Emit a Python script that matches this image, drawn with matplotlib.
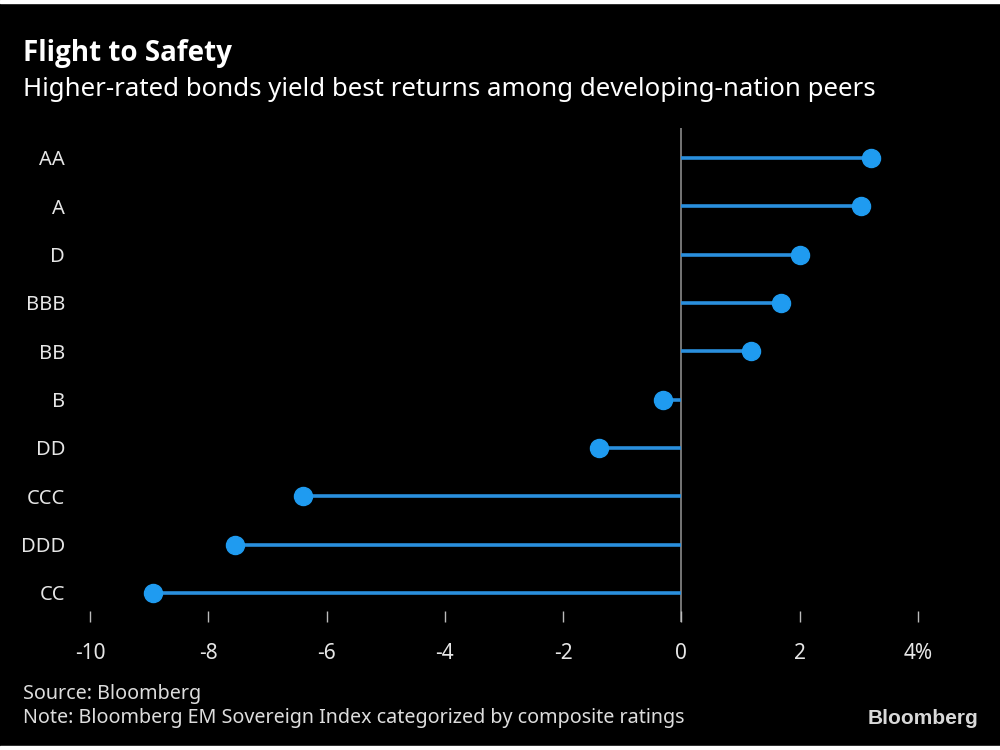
import matplotlib.pyplot as plt
from matplotlib.patches import Rectangle

# ratings, top to bottom as in the chart
ratings = ['AA', 'A', 'D', 'BBB', 'BB', 'B', 'DD', 'CCC', 'DDD', 'CC']
returns = [3.21, 3.03, 2.0, 1.69, 1.17, -0.32, -1.40, -6.40, -7.55, -8.93]
xticks = [-10, -8, -6, -4, -2, 0, 2, 4]
xticklabels = ['-10', '-8', '-6', '-4', '-2', '0', '2', '4%']

plt.rcParams['font.family'] = ['Noto Sans', 'DejaVu Sans']

fig = plt.figure(figsize=(10, 7.5), dpi=100, facecolor='black')
# thin white bands at the top and bottom edge
fig.patches.append(Rectangle((0, 0.9955), 1, 0.0045, transform=fig.transFigure, color='white', zorder=10))
fig.patches.append(Rectangle((0, 0), 1, 0.005, transform=fig.transFigure, color='white', zorder=10))

ax = fig.add_axes([0.09, 0.1707, 0.828, 0.6586])
ax.set_facecolor('black')

ypos = list(range(len(ratings) - 1, -1, -1))
blue = '#1f9bf0'
ax.hlines(ypos, 0, returns, color='#2a8fdd', linewidth=2.6, zorder=2)
ax.plot(returns, ypos, 'o', color=blue, markersize=13, zorder=3, clip_on=False)
ax.axvline(0, color='#8a8a8a', linewidth=1.2, zorder=1)

ax.set_xlim(-10, 4)
ax.set_ylim(-0.6, 9.62)
ax.set_xticks(xticks)
ax.set_xticklabels(xticklabels)
ax.set_yticks(ypos)
ax.set_yticklabels(ratings)

for s in ax.spines.values():
    s.set_visible(False)
ax.tick_params(axis='x', direction='in', length=8, width=1, color='#bbbbbb',
               labelcolor='#e6e6e6', labelsize=15, pad=15)
ax.tick_params(axis='y', length=0, labelcolor='#e6e6e6', labelsize=14.5, pad=18)

fig.text(0.023, 0.918, 'Flight to Safety', color='white', fontsize=20,
         fontweight='bold', family='Open Sans', ha='left', va='baseline')
fig.text(0.023, 0.872, 'Higher-rated bonds yield best returns among developing-nation peers',
         color='white', fontsize=18.6, ha='left', va='baseline')
fig.text(0.023, 0.068, 'Source: Bloomberg', color='#dddddd', fontsize=14.2,
         ha='left', va='baseline')
fig.text(0.023, 0.036, 'Note: Bloomberg EM Sovereign Index categorized by composite ratings',
         color='#dddddd', fontsize=14.2, ha='left', va='baseline')
fig.text(0.978, 0.035, 'Bloomberg', color='#d8d8d8', fontsize=15, fontweight='heavy',
         family='Liberation Sans', ha='right', va='baseline')

fig.savefig('out.png', dpi=100, facecolor='black')
